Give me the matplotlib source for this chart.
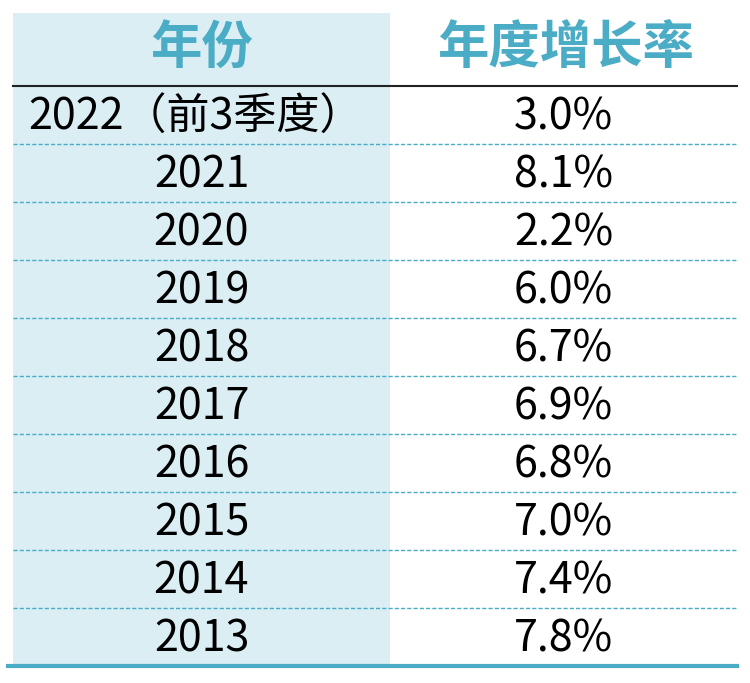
import matplotlib.pyplot as plt
from matplotlib.patches import Rectangle

plt.rcParams['font.family'] = ['Noto Sans CJK SC', 'DejaVu Sans']

# table content
headers = ['年份', '年度增长率']
years = ['2022（前3季度）', '2021', '2020', '2019', '2018', '2017',
         '2016', '2015', '2014', '2013']
growth = ['3.0%', '8.1%', '2.2%', '6.0%', '6.7%', '6.9%',
          '6.8%', '7.0%', '7.4%', '7.8%']

teal = '#4BACC6'
shade = '#DAEEF3'

fig = plt.figure(figsize=(7.5, 6.83), dpi=100)
ax = fig.add_axes([0, 0, 1, 1])
ax.set_xlim(0, 750)
ax.set_ylim(683, 0)
ax.axis('off')

left, mid, right = 13, 390, 737
top, head_bot, row_h = 13, 86, 58

# shaded first column
ax.add_patch(Rectangle((left, top), mid - left, head_bot - top + row_h * len(years),
                       facecolor=shade, edgecolor='none', zorder=0))

# header
ax.text((left + mid) / 2, 48, headers[0], ha='center', va='center',
        fontsize=37, fontweight='bold', color=teal)
ax.text((mid + right) / 2 + 2, 48, headers[1], ha='center', va='center',
        fontsize=37, fontweight='bold', color=teal)
ax.plot([left, right], [head_bot, head_bot], color='#222222', lw=1.5)

# rows
for i, (y, g) in enumerate(zip(years, growth)):
    yc = head_bot + row_h * i + row_h / 2 + 3
    ax.text((left + mid) / 2 - 6 if i == 0 else (left + mid) / 2, yc, y,
            ha='center', va='center', fontsize=31, color='black')
    ax.text((mid + right) / 2, yc, g, ha='center', va='center',
            fontsize=31, color='black')
    yb = head_bot + row_h * (i + 1)
    if i < len(years) - 1:
        ax.plot([left, right], [yb, yb], color=teal, lw=1, ls=(0, (3, 1.5)))
    else:
        ax.plot([8, right], [yb, yb], color=teal, lw=3)

fig.savefig('out.png', dpi=100)
